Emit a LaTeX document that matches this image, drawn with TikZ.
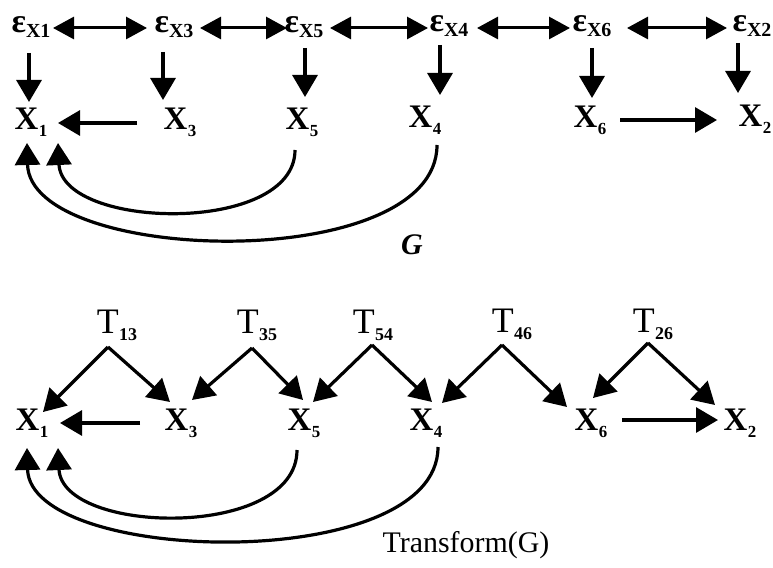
\documentclass[tikz,border=0pt]{standalone}
\usepackage{fontspec}
\setmainfont{Liberation Serif}
\usetikzlibrary{arrows.meta,calc}
\newcommand\XX[1]{{\fontsize{33}{33}\selectfont\bfseries X\kern0.5bp\raisebox{-7bp}{\fontsize{17}{17}\selectfont #1}}}
\newcommand\EE[1]{{\fontsize{34}{34}\selectfont\bfseries ε\raisebox{-5bp}{\fontsize{20}{20}\selectfont X#1}}}
\newcommand\TT[1]{{\fontsize{36}{36}\selectfont T\kern0.5bp\raisebox{-7bp}{\fontsize{18}{18}\selectfont\bfseries #1}}}
\begin{document}
\begin{tikzpicture}[x=1bp,y=-1bp,
  lbl/.style={inner sep=0pt,anchor=base},
  arr/.style={line width=3.2bp,-{Triangle[length=22bp,width=25bp]}},
  bi/.style={line width=3bp,{Triangle[length=21bp,width=22bp]}-{Triangle[length=21bp,width=22bp]}}]
\useasboundingbox (0,0) rectangle (773,568);
% ---------- top graph G ----------
\node[lbl] (e1) at (31,33) {\EE{1}};
\node[lbl] (e3) at (174,33) {\EE{3}};
\node[lbl] (e5) at (304,33) {\EE{5}};
\node[lbl] (e4) at (449,32) {\EE{4}};
\node[lbl] (e6) at (592,32) {\EE{6}};
\node[lbl] (e2) at (752,32) {\EE{2}};
\node[lbl] (x1) at (31,130) {\XX{1}};
\node[lbl] (x3) at (180,130) {\XX{3}};
\node[lbl] (x5) at (302,130) {\XX{5}};
\node[lbl] (x4) at (425,128) {\XX{4}};
\node[lbl] (x6) at (590,128) {\XX{6}};
\node[lbl] (x2) at (755,127) {\XX{2}};
% bidirected
\draw[bi] ($(e1.base)+(22,-5)$) -- ($(e3.base)+(-27,-5)$);
\draw[bi] ($(e3.base)+(26,-5)$) -- ($(e5.base)+(-17,-5)$);
\draw[bi] ($(e5.base)+(26,-5)$) -- ($(e4.base)+(-21,-4)$);
\draw[bi] ($(e4.base)+(28,-4)$) -- ($(e6.base)+(-22,-4)$);
\draw[bi] ($(e6.base)+(35,-4)$) -- ($(e2.base)+(-25,-4)$);
% error to variable
\draw[arr] ($(e1.base)+(-2,20)$) -- ($(x1.base)+(-2,-28)$);
\draw[arr] ($(e3.base)+(-11,19)$) -- ($(x3.base)+(-17,-30)$);
\draw[arr] ($(e5.base)+(1,15)$) -- ($(x5.base)+(3,-33)$);
\draw[arr] ($(e4.base)+(-9,13)$) -- ($(x4.base)+(15,-33)$);
\draw[arr] ($(e6.base)+(0,16)$) -- ($(x6.base)+(2,-30)$);
\draw[arr] ($(e2.base)+(-14,11)$) -- ($(x2.base)+(-17,-34)$);
% directed edges
\draw[arr] ($(x3.base)+(-43,-7)$) -- ($(x1.base)+(27,-7)$);
\draw[arr] ($(x6.base)+(30,-8)$) -- ($(x2.base)+(-38,-7)$);
\draw[arr] ($(x5.base)+(-7,20)$) .. controls (295,235) and (62,230) .. ($(x1.base)+(27,13)$);
\draw[arr] ($(x4.base)+(12,17)$) .. controls (437,275) and (30,265) .. ($(x1.base)+(-4,13)$);
\node[lbl] (glbl) at (412,254) {\fontsize{30}{30}\selectfont\bfseries\itshape G};
% ---------- bottom graph Transform(G) ----------
\node[lbl] (t13) at (117,333) {\TT{13}};
\node[lbl] (t35) at (257,333) {\TT{35}};
\node[lbl] (t54) at (373,333) {\TT{54}};
\node[lbl] (t46) at (512,332) {\TT{46}};
\node[lbl] (t26) at (653,332) {\TT{26}};
\node[lbl] (y1) at (32,430) {\XX{1}};
\node[lbl] (y3) at (181,430) {\XX{3}};
\node[lbl] (y5) at (304,430) {\XX{5}};
\node[lbl] (y4) at (426,430) {\XX{4}};
\node[lbl] (y6) at (591,430) {\XX{6}};
\node[lbl] (y2) at (740,430) {\XX{2}};
\coordinate (a13) at ($(t13.base)+(-9,14)$);
\coordinate (a35) at ($(t35.base)+(-5,15)$);
\coordinate (a54) at ($(t54.base)+(-1,12)$);
\coordinate (a46) at ($(t46.base)+(-10,13)$);
\coordinate (a26) at ($(t26.base)+(-5,11)$);
\draw[arr] (a13) -- ($(y1.base)+(11,-18)$);
\draw[arr] (a13) -- ($(y3.base)+(-11,-28)$);
\draw[arr] (a35) -- ($(y3.base)+(11,-30)$);
\draw[arr] (a35) -- ($(y5.base)+(-1,-30)$);
\draw[arr] (a54) -- ($(y5.base)+(9,-28)$);
\draw[arr] (a54) -- ($(y4.base)+(6,-28)$);
\draw[arr] (a46) -- ($(y4.base)+(16,-27)$);
\draw[arr] (a46) -- ($(y6.base)+(-24,-23)$);
\draw[arr] (a26) -- ($(y6.base)+(2,-32)$);
\draw[arr] (a26) -- ($(y2.base)+(-25,-25)$);
\draw[arr] ($(y3.base)+(-41,-7)$) -- ($(y1.base)+(28,-7)$);
\draw[arr] ($(y6.base)+(31,-10)$) -- ($(y2.base)+(-22,-10)$);
\draw[arr] ($(y5.base)+(-7,20)$) .. controls (297,540) and (62,535) .. ($(y1.base)+(26,18)$);
\draw[arr] ($(y4.base)+(12,17)$) .. controls (438,575) and (30,565) .. ($(y1.base)+(-5,18)$);
\node[lbl] (tlbl) at (466,552) {\fontsize{30}{30}\selectfont Transform(G)};
\end{tikzpicture}
\end{document}
